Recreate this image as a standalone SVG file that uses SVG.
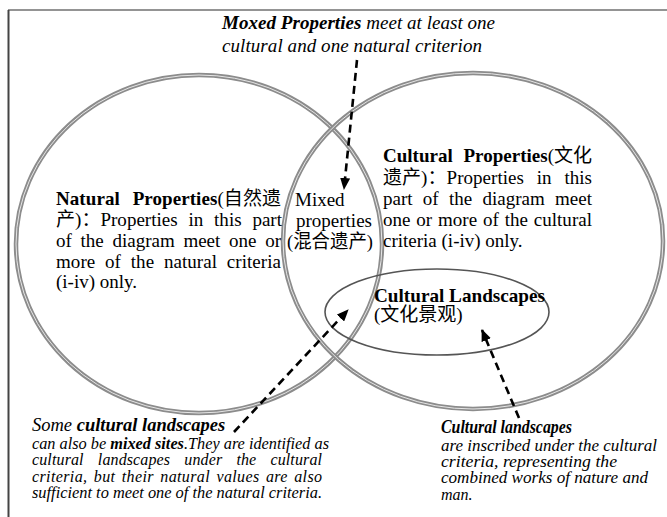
<svg xmlns="http://www.w3.org/2000/svg" width="667" height="517" viewBox="0 0 667 517">
<style>
.t{font-family:"Liberation Serif","Noto Sans CJK SC",serif;font-size:19px;fill:#000}
.b{font-weight:bold}
.i{font-style:italic}
.s{font-size:16px}
.m{font-size:18.5px}
.ring{fill:none;stroke:#8c8c8c;stroke-width:4.5}
.ringin{fill:none;stroke:#e6e6e6;stroke-width:1}
.arrow{fill:none;stroke:#000;stroke-width:2.6;stroke-dasharray:8 5;marker-end:url(#ah)}
</style>
<defs>
<marker id="ah" viewBox="0 0 12 10" refX="11" refY="5" markerWidth="12" markerHeight="10" markerUnits="userSpaceOnUse" orient="auto">
<path d="M0,0 L12,5 L0,10 Z" fill="#000"/>
</marker>
</defs>
<rect width="667" height="517" fill="#fff"/>
<g id="frame">
<line x1="8" y1="10" x2="667" y2="10" stroke="#707070" stroke-width="1.4"/>
<line x1="8.5" y1="10" x2="8.5" y2="517" stroke="#444" stroke-width="2"/>
</g>
<g id="natural">
<ellipse class="ring" cx="199" cy="244" rx="183" ry="169"/>
<ellipse class="ringin" cx="199" cy="244" rx="183" ry="169"/>
</g>
<g id="cultural">
<ellipse class="ring" cx="473" cy="241" rx="190" ry="168"/>
<ellipse class="ringin" cx="473" cy="241" rx="190" ry="168"/>
</g>
<g id="landscapes">
<ellipse cx="437" cy="312" rx="112" ry="43" fill="none" stroke="#555" stroke-width="1.6"/>
<text class="t b" x="374" y="302" textLength="171" lengthAdjust="spacingAndGlyphs">Cultural Landscapes</text>
<text class="t" x="374" y="321">(文化景观)</text>
</g>
<g id="natural-text">
<text class="t" x="56" y="205" word-spacing="8" textLength="225" lengthAdjust="spacing"><tspan class="b">Natural Properties</tspan>(自然遗</text>
<text class="t" x="56" y="226" word-spacing="6" textLength="226" lengthAdjust="spacing">产)：Properties in this part</text>
<text class="t" x="56" y="247" word-spacing="4" textLength="225" lengthAdjust="spacing">of the diagram meet one or</text>
<text class="t" x="56" y="268" word-spacing="5" textLength="225" lengthAdjust="spacing">more of the natural criteria</text>
<text class="t" x="56" y="288">(i-iv) only.</text>
</g>
<g id="mixed-text">
<text class="t" x="295" y="206">Mixed</text>
<text class="t" x="296" y="227">properties</text>
<text class="t" x="287" y="248" textLength="86" lengthAdjust="spacingAndGlyphs">(混合遗产)</text>
</g>
<g id="cultural-text">
<text class="t" x="383" y="162" word-spacing="6" textLength="209" lengthAdjust="spacing"><tspan class="b">Cultural Properties</tspan>(文化</text>
<text class="t" x="383" y="184" word-spacing="8" textLength="209" lengthAdjust="spacing">遗产)：Properties in this</text>
<text class="t" x="383" y="205" word-spacing="5.5" textLength="209" lengthAdjust="spacing">part of the diagram meet</text>
<text class="t" x="383" y="226" word-spacing="1" textLength="209" lengthAdjust="spacing">one or more of the cultural</text>
<text class="t" x="383" y="247">criteria (i-iv) only.</text>
</g>
<g id="mixed-note">
<text class="t i" x="222" y="29" textLength="273" lengthAdjust="spacing"><tspan class="b">Moxed Properties</tspan> meet at least one</text>
<text class="t i" x="222" y="52" textLength="260" lengthAdjust="spacing">cultural and one natural criterion</text>
</g>
<g id="some-note">
<text class="t i m" x="32" y="431">Some <tspan class="b">cultural landscapes</tspan></text>
<text class="t i s" x="32" y="449" textLength="297" lengthAdjust="spacingAndGlyphs">can also be <tspan class="b">mixed sites</tspan>.They are identified as</text>
<text class="t i s" x="32" y="465" word-spacing="10" textLength="290" lengthAdjust="spacing">cultural landscapes under the cultural</text>
<text class="t i s" x="32" y="482" word-spacing="2" textLength="290" lengthAdjust="spacing">criteria, but their natural values are also</text>
<text class="t i s" x="32" y="498" textLength="290" lengthAdjust="spacingAndGlyphs">sufficient to meet one of the natural criteria.</text>
</g>
<g id="landscape-note">
<text class="t i b" x="441" y="433" font-size="17.5" textLength="131" lengthAdjust="spacingAndGlyphs">Cultural landscapes</text>
<text class="t i s" x="441" y="451" textLength="216" lengthAdjust="spacingAndGlyphs">are inscribed under the cultural</text>
<text class="t i s" x="441" y="467" textLength="176" lengthAdjust="spacingAndGlyphs">criteria, representing the</text>
<text class="t i s" x="441" y="483" textLength="207" lengthAdjust="spacingAndGlyphs">combined works of nature and</text>
<text class="t i s" x="441" y="500">man.</text>
</g>
<g id="connectors">
<path class="arrow" d="M357,60 L344,189"/>
<path class="arrow" d="M234,432 L348,310"/>
<path class="arrow" d="M519,418 L482,330"/>
</g>
</svg>
